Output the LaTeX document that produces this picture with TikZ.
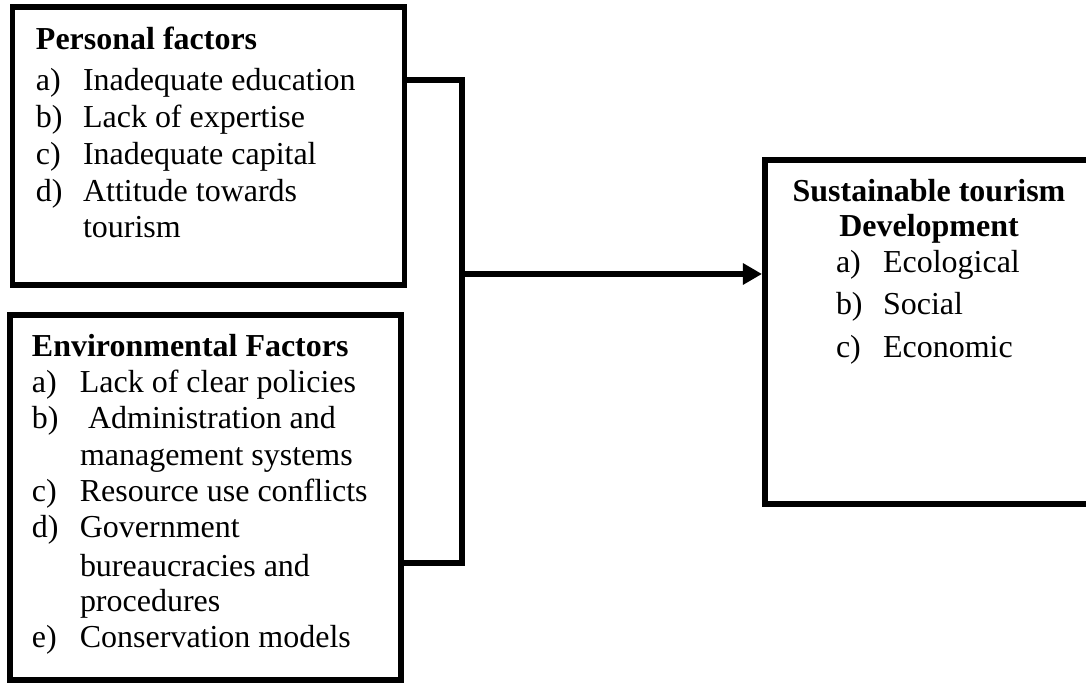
\documentclass[tikz,border=0pt]{standalone}
\usepackage{fontspec}
\setmainfont{Liberation Serif}
\usetikzlibrary{arrows.meta,fit}
\begin{document}
\begin{tikzpicture}[x=0.3674pt,y=-0.3674pt,
  box/.style={draw,line width=2.2pt,line join=miter,inner sep=0pt,rectangle},
  conn/.style={draw,line width=2.2pt,line join=miter},
  txt/.style={inner sep=0pt,outer sep=0pt,anchor=base west,font=\fontsize{11.75}{13.5}\selectfont},
  hd/.style={txt,font=\fontsize{11.75}{13.5}\selectfont\bfseries},
  hdc/.style={hd,anchor=base}]
\useasboundingbox (0,0) rectangle (1086,684);
\clip (0,0) rectangle (1086,684);
% boxes
\node[box,fit={(12.5,7) (404.5,285.5)}] (b1) {};
\node[box,fit={(10,315.5) (401,680)}] (b2) {};
\node[box,fit={(765,160) (1100,504.5)}] (b3) {};
% box 1 text
\node[hd] (p0) at (36,50) {Personal factors};
\node[txt] (p1) at (36,91) {\makebox[17.3pt][l]{a)}Inadequate education};
\node[txt] (p2) at (36,128) {\makebox[17.3pt][l]{b)}Lack of expertise};
\node[txt] (p3) at (36,165) {\makebox[17.3pt][l]{c)}Inadequate capital};
\node[txt] (p4) at (36,202) {\makebox[17.3pt][l]{d)}Attitude towards};
\node[txt] (p5) at (83,238) {tourism};
% box 2 text
\node[hd] (e0) at (32,357) {Environmental Factors};
\node[txt] (e1) at (32,393) {\makebox[17.6pt][l]{a)}Lack of clear policies};
\node[txt] (e2) at (32,429) {\makebox[20.6pt][l]{b)}Administration and};
\node[txt] (e3) at (80,466) {management systems};
\node[txt] (e4) at (32,502) {\makebox[17.6pt][l]{c)}Resource use conflicts};
\node[txt] (e5) at (32,538) {\makebox[17.6pt][l]{d)}Government};
\node[txt] (e6) at (80,577) {bureaucracies and};
\node[txt] (e7) at (80,612) {procedures};
\node[txt] (e8) at (32,648) {\makebox[17.6pt][l]{e)}Conservation models};
% box 3 text
\node[hdc] (s0) at (929,202) {Sustainable tourism};
\node[hdc] (s1) at (929,237) {Development};
\node[txt] (s2) at (836,273) {\makebox[17.3pt][l]{a)}Ecological};
\node[txt] (s3) at (836,315) {\makebox[17.3pt][l]{b)}Social};
\node[txt] (s4) at (836,358) {\makebox[17.3pt][l]{c)}Economic};
% connectors
\coordinate (jt) at (462,80);
\coordinate (jb) at (462,563);
\coordinate (jm) at (462,274);
\draw[conn] (b1.east |- jt) -- (jt) -- (jb) -- (b2.east |- jb);
\draw[conn,-{Triangle[length=7pt,width=7.5pt]}] (jm) -- (b3.west |- jm);
\end{tikzpicture}
\end{document}
